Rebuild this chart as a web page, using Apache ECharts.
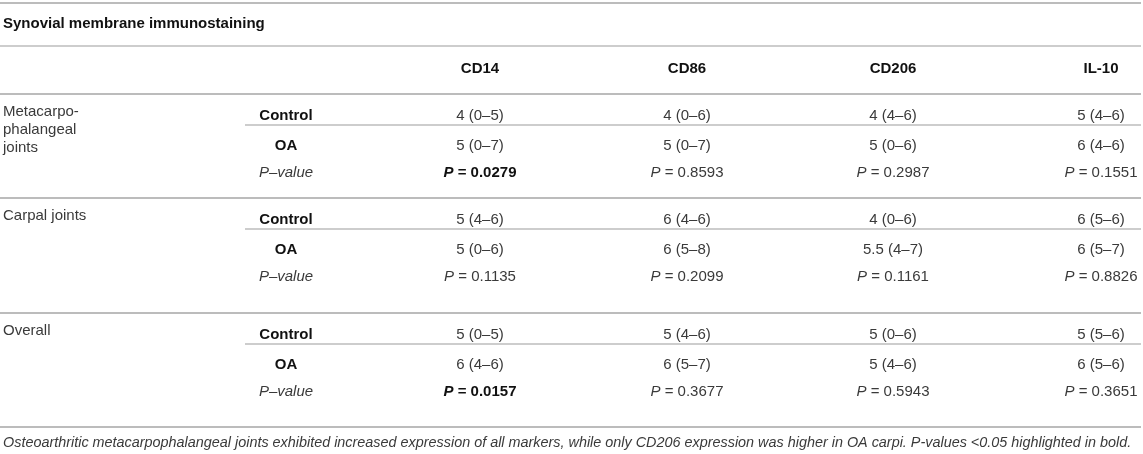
<!DOCTYPE html>
<html><head><meta charset="utf-8">
<script src="https://cdn.jsdelivr.net/npm/echarts@6/dist/echarts.min.js"></script>
<style>html,body{margin:0;padding:0;background:#fff}#c{width:1143px;height:454px}</style>
</head><body><div id="c"></div>
<script>
// ---- data ----
const title = "Synovial membrane immunostaining";
const markers = ["CD14", "CD86", "CD206", "IL-10"];
const joints = [["Metacarpo-", "phalangeal", "joints"], ["Carpal joints"], ["Overall"]];
const groups = ["Control", "OA", "P–value"];
const controlValues = [
  ["4 (0–5)", "4 (0–6)", "4 (4–6)", "5 (4–6)"],
  ["5 (4–6)", "6 (4–6)", "4 (0–6)", "6 (5–6)"],
  ["5 (0–5)", "5 (4–6)", "5 (0–6)", "5 (5–6)"]
];
const oaValues = [
  ["5 (0–7)", "5 (0–7)", "5 (0–6)", "6 (4–6)"],
  ["5 (0–6)", "6 (5–8)", "5.5 (4–7)", "6 (5–7)"],
  ["6 (4–6)", "6 (5–7)", "5 (4–6)", "6 (5–6)"]
];
const pValues = [
  ["0.0279", "0.8593", "0.2987", "0.1551"],
  ["0.1135", "0.2099", "0.1161", "0.8826"],
  ["0.0157", "0.3677", "0.5943", "0.3651"]
];
const significance = 0.05;
const caption = "Osteoarthritic metacarpophalangeal joints exhibited increased expression of all markers, while only CD206 expression was higher in OA carpi. P-values <0.05 highlighted in bold.";

// ---- layout ----
const FONT = "'Liberation Sans', Arial, Helvetica, sans-serif";
const FS = 15;
const DARK = '#111';
const VAL = '#3a3a3a';
const LINE = '#bcbcbc';
const W = 1141;
const colX = [480, 687, 893, 1101];
const groupX = 286;
const subLineX = 245;
const headerY = 69;
const blockTop = [94, 198, 313];
const rowOff = [22, 52, 79];     // control, OA, p
const ctrlLineOff = 31;
const blockBottom = [198, 313, 427];

const els = [];
function txt(x, y, s, opt) {
  els.push({type: 'text', x: x, y: y, silent: true, style: Object.assign({
    text: s, font: (opt && opt.font) || (FS + 'px ' + FONT), fill: (opt && opt.fill) || VAL,
    align: (opt && opt.align) || 'center', verticalAlign: 'middle'
  }, (opt && opt.extra) || {})});
}
function line(x1, x2, y, w) {
  els.push({type: 'line', silent: true, shape: {x1: x1, y1: y, x2: x2, y2: y},
    style: {stroke: LINE, lineWidth: w || 1.5}});
}

line(0, W, 3, 2);
txt(3, 24, title, {align: 'left', fill: DARK, font: 'bold ' + FS + 'px ' + FONT});
line(0, W, 46, 1.5);
markers.forEach((m, i) => txt(colX[i], headerY, m, {fill: DARK, font: 'bold ' + FS + 'px ' + FONT}));
line(0, W, 94, 2);

joints.forEach((lab, b) => {
  const top = blockTop[b];
  lab.forEach((l, k) => txt(3, top + 18 + k * 18, l, {align: 'left', fill: VAL}));
  txt(groupX, top + rowOff[0], groups[0], {fill: DARK, font: 'bold ' + FS + 'px ' + FONT});
  txt(groupX, top + rowOff[1], groups[1], {fill: DARK, font: 'bold ' + FS + 'px ' + FONT});
  txt(groupX, top + rowOff[2], groups[2], {fill: VAL, font: 'italic ' + FS + 'px ' + FONT});
  line(subLineX, W, top + ctrlLineOff, 1.5);
  markers.forEach((m, i) => {
    txt(colX[i], top + rowOff[0], controlValues[b][i]);
    txt(colX[i], top + rowOff[1], oaValues[b][i]);
    const p = pValues[b][i];
    const bold = parseFloat(p) < significance;
    els.push({type: 'text', x: colX[i], y: top + rowOff[2], silent: true, style: {
      text: '{p|P}{v| = ' + p + '}', align: 'center', verticalAlign: 'middle',
      rich: {
        p: {fontFamily: FONT, fontSize: FS, fontStyle: 'italic', fontWeight: bold ? 'bold' : 'normal', fill: bold ? DARK : VAL},
        v: {fontFamily: FONT, fontSize: FS, fontWeight: bold ? 'bold' : 'normal', fill: bold ? DARK : VAL}
      }
    }});
  });
  line(0, W, blockBottom[b], 2);
});
txt(3, 443, caption, {align: 'left', fill: VAL, font: 'italic 14.4px ' + FONT});

const chart = echarts.init(document.getElementById('c'), null, {renderer: 'canvas'});
chart.setOption({animation: false, backgroundColor: '#fff', graphic: {elements: els}});
</script></body></html>
